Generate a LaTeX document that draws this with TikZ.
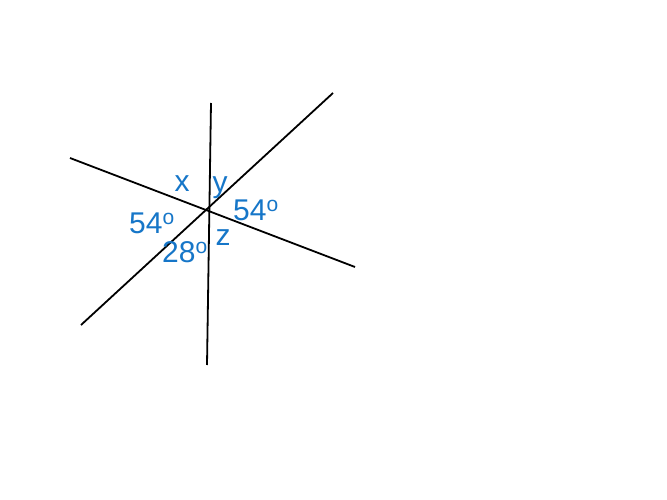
\documentclass[tikz,border=0pt]{standalone}
\usepackage{fontspec}
\setmainfont{Liberation Sans}
\definecolor{anglblue}{RGB}{22,118,200}
\begin{document}
\begin{tikzpicture}[x=1pt,y=-1pt,
  lbl/.style={text=anglblue,font=\fontsize{30}{32}\selectfont,inner sep=0pt}]
\useasboundingbox (0,0) rectangle (667,500);
\coordinate (a1) at (70,158);  \coordinate (a2) at (355,267);
\coordinate (b1) at (211,103); \coordinate (b2) at (207,365);
\coordinate (c1) at (333,93);  \coordinate (c2) at (81,325);
\draw[line width=1.8pt] (a1) -- (a2);
\draw[line width=1.8pt] (b1) -- (b2);
\draw[line width=1.8pt] (c1) -- (c2);
\node[lbl] (x) at (182,184) {x};
\node[lbl] (y) at (220,188) {y};
\node[lbl] (r54) at (256,210) {54\textsuperscript{o}};
\node[lbl] (l54) at (152,223) {54\textsuperscript{o}};
\node[lbl] (z) at (223,238) {z};
\node[lbl] (a28) at (185,252) {28\textsuperscript{o}};
\end{tikzpicture}
\end{document}
